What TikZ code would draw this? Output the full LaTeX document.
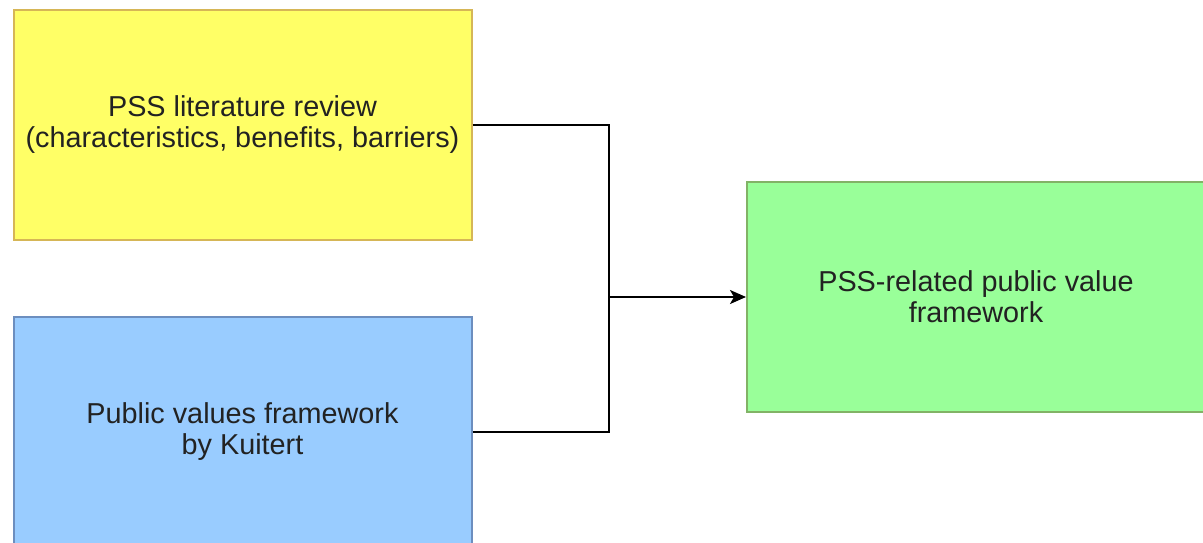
\documentclass[tikz,border=0pt]{standalone}
\usepackage{fontspec}
\setmainfont{Liberation Sans}
\usetikzlibrary{arrows.meta}
\definecolor{yfill}{HTML}{FFFF66}
\definecolor{yline}{HTML}{D6B656}
\definecolor{bfill}{HTML}{99CCFF}
\definecolor{bline}{HTML}{6C8EBF}
\definecolor{gfill}{HTML}{99FF99}
\definecolor{gline}{HTML}{82B366}
\definecolor{txt}{HTML}{222222}
\tikzset{
  box/.style={rectangle, line width=2pt, minimum width=458pt, minimum height=229.5pt,
    inner sep=0pt, align=center, text=txt, font=\fontsize{28.8}{31}\selectfont},
  conn/.style={line width=2pt, black},
}
\begin{document}
\begin{tikzpicture}[x=1pt,y=-1pt]
\useasboundingbox (0,0) rectangle (1203,542);
\clip (0,0) rectangle (1203,542);
\fill[white] (0,0) rectangle (1203,542);
\node[box, fill=yfill, draw=yline] (lit) at (242.5,125) {PSS literature review\\(characteristics, benefits, barriers)};
\node[box, fill=bfill, draw=bline] (kui) at (242.5,432) {Public values framework\\by Kuitert};
\node[box, fill=gfill, draw=gline] (pss) at (976,297) {PSS-related public value\\framework};
\coordinate (j) at (609,297);
\draw[conn] (lit.east) -| (j);
\draw[conn] (kui.east) -| (j);
\draw[conn, -{Stealth[length=16pt,width=14pt,inset=4pt]}] (j) -- (pss.west);
\end{tikzpicture}
\end{document}
